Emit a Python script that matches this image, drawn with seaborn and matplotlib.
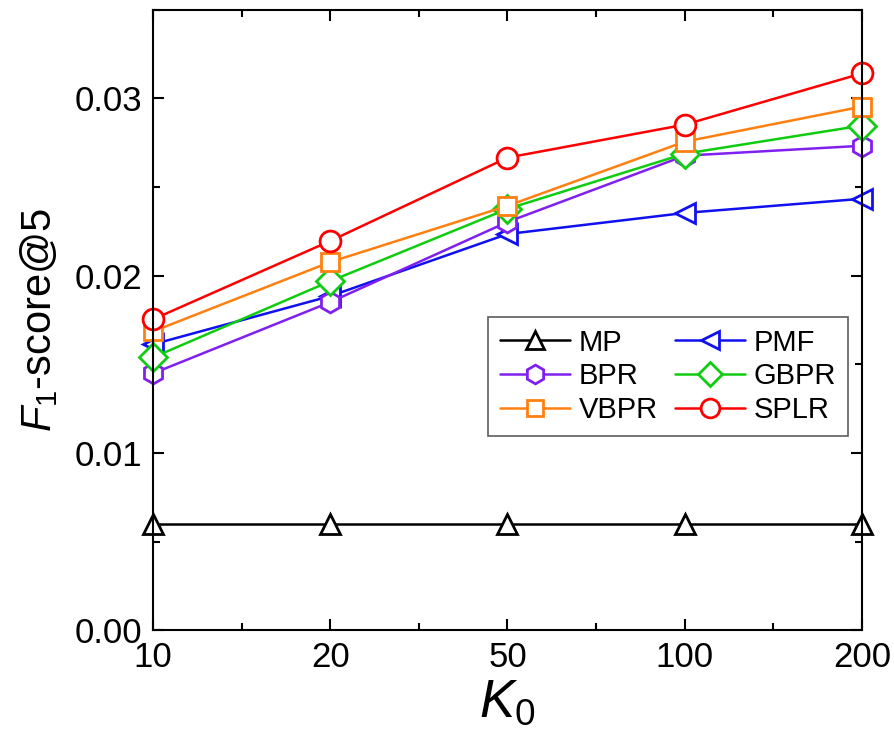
import pandas as pd
import matplotlib
matplotlib.use("Agg")
import matplotlib.pyplot as plt
from matplotlib.ticker import MultipleLocator
import seaborn as sns

sns.set_style("ticks")
plt.rcParams["font.family"] = ["Liberation Sans", "DejaVu Sans"]
plt.rcParams["mathtext.fontset"] = "custom"
plt.rcParams["mathtext.rm"] = "Liberation Sans"
plt.rcParams["mathtext.it"] = "Liberation Sans:italic"
for key in ["text.color", "axes.labelcolor", "xtick.color", "ytick.color"]:
    plt.rcParams[key] = "black"

k_values = ["10", "20", "50", "100", "200"]
methods = ["MP", "PMF", "BPR", "GBPR", "VBPR", "SPLR"]

mp = [0.0060, 0.0060, 0.0060, 0.0060, 0.0060]
pmf = [0.01613, 0.01885, 0.02235, 0.02354, 0.02434]
bpr = [0.01449, 0.01851, 0.02303, 0.02677, 0.02733]
gbpr = [0.01539, 0.01969, 0.02377, 0.02688, 0.02847]
vbpr = [0.01686, 0.02077, 0.02394, 0.02756, 0.02954]
splr = [0.01754, 0.02196, 0.02666, 0.02852, 0.03141]

palette = {"MP": "#000000", "PMF": "#1010f0", "BPR": "#8020f0",
           "GBPR": "#10cc10", "VBPR": "#ff8010", "SPLR": "#ff0000"}
markers = {"MP": "^", "PMF": "<", "BPR": "h", "GBPR": "D", "VBPR": "s", "SPLR": "o"}
sizes = {"MP": 15, "PMF": 15, "BPR": 15, "GBPR": 14, "VBPR": 13, "SPLR": 15}

series = {"MP": mp, "PMF": pmf, "BPR": bpr, "GBPR": gbpr, "VBPR": vbpr, "SPLR": splr}
rows = []
for m in methods:
    for i, v in enumerate(series[m]):
        rows.append({"pos": i, "K": k_values[i], "score": v, "method": m})
df = pd.DataFrame(rows)

fig = plt.figure(figsize=(8.95, 7.53), dpi=100)
ax = fig.add_axes([0.171, 0.163, 0.792, 0.824])

sns.lineplot(data=df, x="pos", y="score", hue="method", style="method",
             hue_order=methods, style_order=methods, palette=palette,
             markers=markers, dashes=False, errorbar=None, legend=False,
             linewidth=1.8, ax=ax)

for line, m in zip(ax.lines, methods):
    line.set_markerfacecolor("white")
    line.set_markeredgecolor(palette[m])
    line.set_markeredgewidth(2.0)
    line.set_markersize(sizes[m])
    line.set_clip_on(False)

ax.set_xlim(0, 4)
ax.set_ylim(0, 0.035)
ax.set_xticks(range(len(k_values)))
ax.set_xticklabels(k_values)
ax.xaxis.set_minor_locator(MultipleLocator(0.5))
ax.set_yticks([0.00, 0.01, 0.02, 0.03])
ax.set_yticklabels(["0.00", "0.01", "0.02", "0.03"])
ax.yaxis.set_minor_locator(MultipleLocator(0.005))
ax.tick_params(which="both", direction="in", top=True, right=True,
               width=1.5, labelsize=25, pad=8)
ax.tick_params(which="major", length=8)
ax.tick_params(which="minor", length=5)
for s in ax.spines.values():
    s.set_linewidth(1.5)
    s.set_color("black")

ax.set_xlabel(r"$\mathit{K}_{\mathrm{0}}$", fontsize=38, labelpad=2)
ax.set_ylabel(r"$\mathit{F}_{\mathrm{1}}$-score@5", fontsize=30, labelpad=10)

order = ["MP", "BPR", "VBPR", "PMF", "GBPR", "SPLR"]
handles = [ax.lines[methods.index(m)] for m in order]
leg = ax.legend(handles, order, ncol=2, loc="upper left",
                bbox_to_anchor=(0.4725, 0.505), borderaxespad=0,
                fontsize=21, frameon=True, fancybox=False, handlelength=2.4,
                handletextpad=0.3, columnspacing=0.6, labelspacing=0.2,
                borderpad=0.4, markerscale=0.9)
leg.get_frame().set_edgecolor("#333333")
leg.get_frame().set_linewidth(1.2)

fig.savefig("out.png", dpi=100)
